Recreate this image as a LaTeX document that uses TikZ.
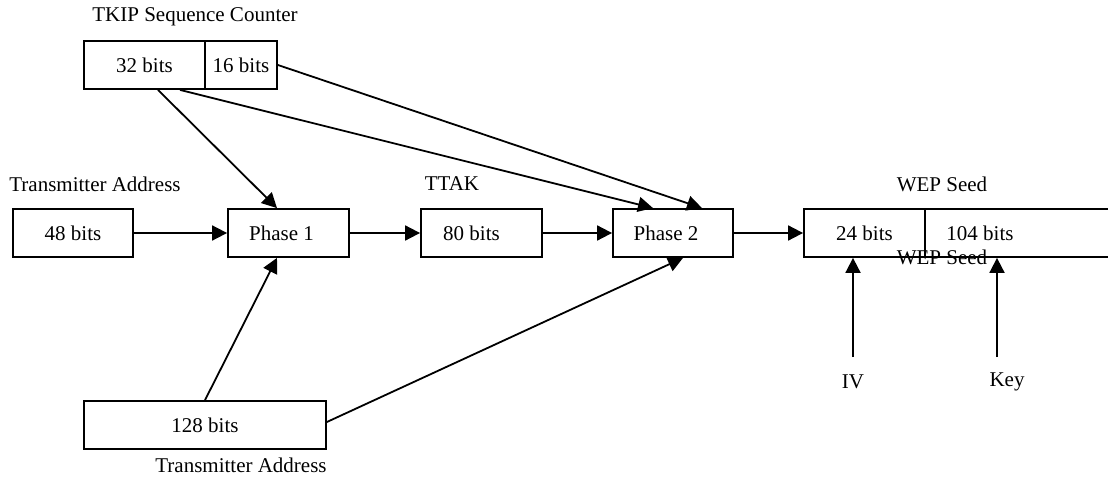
\documentclass[tikz,border=0pt]{standalone}
\usepackage{fontspec}
\setmainfont{Liberation Serif}
\usetikzlibrary{arrows.meta}
\begin{document}
\begin{tikzpicture}[x=1pt,y=-1pt,
  lbl/.style={font=\fontsize{21}{25}\selectfont, inner sep=0pt},
  box/.style={draw, line width=1.8pt, minimum height=48pt, inner sep=0pt,
              font=\fontsize{21}{25}\selectfont},
  flow/.style={line width=1.8pt, -{Triangle[length=15pt,width=15pt]}}]
\useasboundingbox (0,0) rectangle (1108,481);
\clip (0,0) rectangle (1108,481);

% TKIP sequence counter (split box)
\node[lbl] (tkipT) at (195,17) {TKIP Sequence Counter};
\node[box, minimum width=121pt] (c32) at (144.5,65) {32 bits};
\node[box, minimum width=72pt] (c16) at (241,65) {16 bits};

% top row
\node[lbl] (taT) at (95,184) {Transmitter Address};
\node[lbl] (ttakT) at (452,184) {TTAK};
\node[lbl] (wepT) at (942,184) {WEP Seed};

\node[box, minimum width=120pt] (ta) at (73,233) {48 bits};
\node[box, minimum width=121pt] (p1) at (288.5,233) {\hspace*{-14pt}Phase 1};
\node[box, minimum width=121pt] (ttak) at (481.5,233) {\hspace*{-20pt}80 bits};
\node[box, minimum width=120pt] (p2) at (673,233) {\hspace*{-14pt}Phase 2};
\node[box, minimum width=121pt] (w24) at (864.5,233) {24 bits};
\node[box, minimum width=205pt] (w104) at (1027.5,233) {};
\node[lbl] (w104t) at (980,233) {104 bits};
\node[lbl] (wepB) at (942,257) {WEP Seed};

% key material
\node[box, minimum width=242pt] (tk) at (205,425) {128 bits};
\node[lbl] (tkB) at (241,465) {Transmitter Address};
\node[lbl] (iv) at (853,382) {IV};
\node[lbl] (key) at (1007,382) {Key};
\coordinate (ivTop) at (853,357);
\coordinate (keyTop) at (997,357);

% main flow
\draw[flow] (ta.east) -- (p1.west);
\draw[flow] (p1.east) -- (ttak.west);
\draw[flow] (ttak.east) -- (p2.west);
\draw[flow] (p2.east) -- (w24.west);

% sequence counter inputs
\draw[flow] ([xshift=13.5pt]c32.south) -- ([xshift=-11.5pt]p1.north);
\draw[flow] ([xshift=35.5pt]c32.south) -- ([xshift=-20pt]p2.north);
\draw[flow] (c16.east) -- ([xshift=29pt]p2.north);

% temporal key inputs
\draw[flow] (tk.north) -- ([xshift=-11.5pt]p1.south);
\draw[flow] ([yshift=3pt]tk.east) -- ([xshift=10pt]p2.south);

% IV and key
\draw[flow] (ivTop) -- (ivTop |- w24.south);
\draw[flow] (keyTop) -- (keyTop |- w104.south);
\end{tikzpicture}
\end{document}
